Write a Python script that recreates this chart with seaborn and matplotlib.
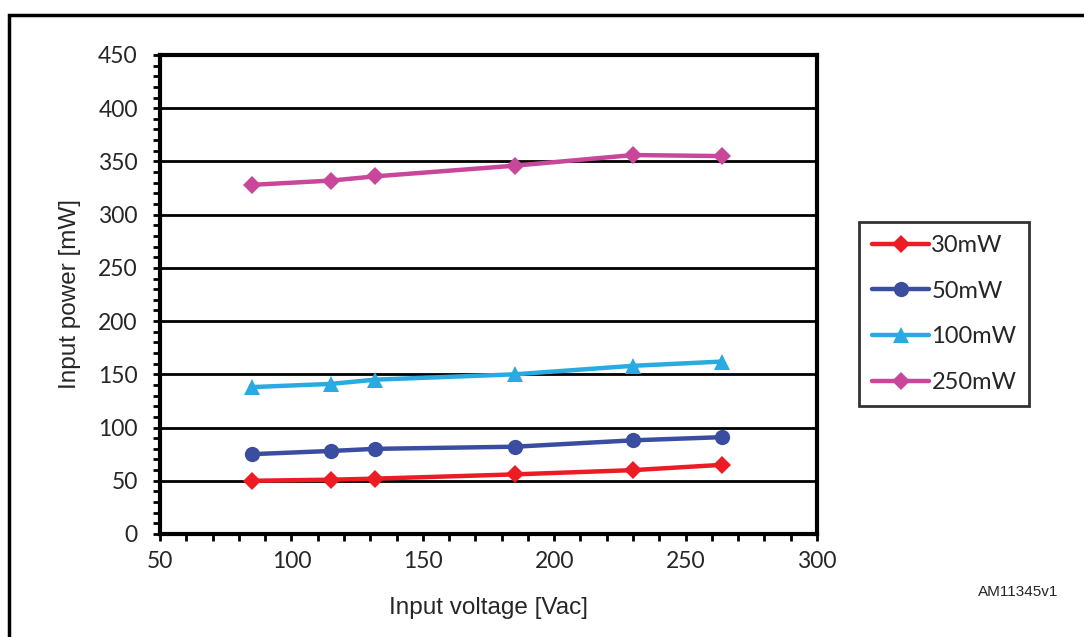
import pandas as pd
import matplotlib
matplotlib.use("Agg")
import matplotlib.pyplot as plt
import seaborn as sns
from matplotlib.patches import Rectangle
from matplotlib.ticker import MultipleLocator

# data
voltage = [85, 115, 132, 185, 230, 264]
p_30mw = [50, 51, 52, 56, 60, 65]
p_50mw = [75, 78, 80, 82, 88, 91]
p_100mw = [138, 141, 145, 150, 158, 162]
p_250mw = [328, 332, 336, 346, 356, 355]
series_names = ["30mW", "50mW", "100mW", "250mW"]

colors = {"30mW": "#ED1C24", "50mW": "#3B4DA0", "100mW": "#29ABE2", "250mW": "#C8479B"}
markers = {"30mW": "D", "50mW": "o", "100mW": "^", "250mW": "D"}

rows = []
for name, vals in zip(series_names, [p_30mw, p_50mw, p_100mw, p_250mw]):
    for v, p in zip(voltage, vals):
        rows.append({"Vin": v, "Pin": p, "load": name})
df = pd.DataFrame(rows)

sns.set_style("white")
plt.rcParams["font.family"] = ["Liberation Sans", "DejaVu Sans"]

fig = plt.figure(figsize=(10.84, 6.37), dpi=100)
ax = fig.add_axes([0.1476, 0.1617, 0.6061, 0.752])

sns.lineplot(data=df, x="Vin", y="Pin", hue="load", style="load",
             palette=colors, markers=markers, dashes=False,
             linewidth=3.2, markersize=11, markeredgewidth=0, ax=ax)

# diamonds look bigger than circles at the same size
for line in ax.get_lines():
    if line.get_marker() == "D":
        line.set_markersize(9)

ax.set_xlim(50, 300)
ax.set_ylim(0, 450)
ax.xaxis.set_major_locator(MultipleLocator(50))
ax.xaxis.set_minor_locator(MultipleLocator(10))
ax.yaxis.set_major_locator(MultipleLocator(50))
ax.yaxis.set_minor_locator(MultipleLocator(10))
ax.yaxis.grid(True, which="major", color="black", linewidth=2)
ax.set_axisbelow(True)
for s in ax.spines.values():
    s.set_visible(True)
    s.set_color("black")
    s.set_linewidth(3)
ax.tick_params(which="both", direction="out", length=5, width=2, color="black",
               bottom=True, left=True)
ax.tick_params(which="major", labelsize=16.5)
ax.tick_params(axis="y", which="major", pad=11)
ax.tick_params(axis="x", which="major", pad=7)
for lbl in ax.get_xticklabels() + ax.get_yticklabels():
    lbl.set_family(["Lato", "DejaVu Sans"])

ax.set_xlabel("Input voltage [Vac]", fontsize=17.5, labelpad=18)
ax.set_ylabel("Input power [mW]", fontsize=17.5, labelpad=12)

handles, labels = ax.get_legend_handles_labels()
ax.get_legend().remove()
leg = fig.legend(handles, labels, loc="center", bbox_to_anchor=(0.797, 0.3626, 0.1485, 0.289),
                 frameon=True, fancybox=False, edgecolor="black",
                 handlelength=2.4, handletextpad=0.1, labelspacing=1.05,
                 borderpad=0.55, borderaxespad=0.1,
                 prop={"family": ["Lato", "DejaVu Sans"], "size": 17})
leg.get_frame().set_linewidth(2)

fig.text(0.976, 0.06, "AM11345v1", ha="right", va="bottom", fontsize=11)

fig.patches.append(Rectangle((0.008, -0.05), 1.2, 1.026, transform=fig.transFigure,
                             fill=False, edgecolor="black", linewidth=2.5))

fig.savefig("out.png", dpi=100)
